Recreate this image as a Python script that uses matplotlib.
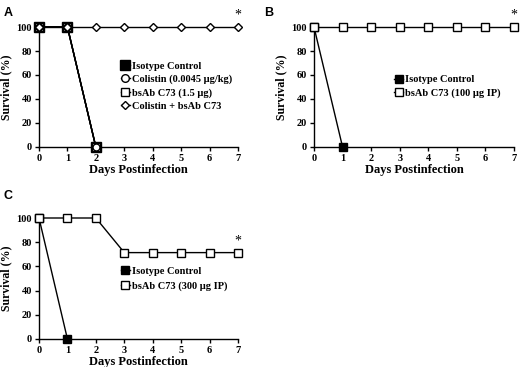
import matplotlib
matplotlib.use("Agg")
import matplotlib.pyplot as plt

days = [0, 1, 2, 3, 4, 5, 6, 7]

# Panel A
a_iso_days = [0, 1, 2]
a_iso = [100, 100, 0]
a_col_days = [0, 1, 2]
a_col = [100, 100, 0]
a_bs_days = [0, 1, 2]
a_bs = [100, 100, 0]
a_combo = [100, 100, 100, 100, 100, 100, 100, 100]

# Panel B
b_iso_days = [0, 1]
b_iso = [100, 0]
b_bs = [100, 100, 100, 100, 100, 100, 100, 100]

# Panel C
c_iso_days = [0, 1]
c_iso = [100, 0]
c_bs = [100, 100, 100, 71.4, 71.4, 71.4, 71.4, 71.4]

labels_a = ["Isotype Control", "Colistin (0.0045 µg/kg)", "bsAb C73 (1.5 µg)", "Colistin + bsAb C73"]
labels_b = ["Isotype Control", "bsAb C73 (100 µg IP)"]
labels_c = ["Isotype Control", "bsAb C73 (300 µg IP)"]
yticks = [0, 20, 40, 60, 80, 100]

serif = "Liberation Serif"
fig = plt.figure(figsize=(5.2, 3.67), dpi=100)

W, H = 520, 367
def ax_at(x0, x1, y_top, y_bot):
    return fig.add_axes([x0 / W, 1 - y_bot / H, (x1 - x0) / W, (y_bot - y_top) / H])

axA = ax_at(39, 238, 27, 147)
axB = ax_at(314, 514, 27, 147)
axC = ax_at(39, 238, 218, 339)

def style(ax):
    ax.set_xlim(0, 7)
    ax.set_ylim(0, 100)
    ax.set_xticks(days)
    ax.set_yticks(yticks)
    for s in ["top", "right"]:
        ax.spines[s].set_visible(False)
    for s in ["left", "bottom"]:
        ax.spines[s].set_linewidth(1.0)
    ax.tick_params(direction="out", length=3, width=1, pad=2, labelsize=7.5)
    for lab in ax.get_xticklabels() + ax.get_yticklabels():
        lab.set_fontfamily(serif)
        lab.set_fontweight("bold")
    ax.set_xlabel("Days Postinfection", fontfamily=serif, fontweight="bold", fontsize=9, labelpad=1)
    ax.set_ylabel("Survival (%)", fontfamily=serif, fontweight="bold", fontsize=8.5, labelpad=3)

lkw = dict(color="black", lw=1.0, clip_on=False, zorder=3)

# Panel A
axA.plot(a_iso_days, a_iso, marker="s", ms=6.5, mfc="black", mec="black", label=labels_a[0], **lkw)
axA.plot(a_col_days, a_col, marker="o", ms=5.5, mfc="white", mec="black", label=labels_a[1], **lkw)
axA.plot(a_bs_days, a_bs, marker="s", ms=5.5, mfc="white", mec="black", label=labels_a[2], **lkw)
axA.plot(a_bs_days, a_col, marker="o", ms=5, mfc="white", mec="black", **lkw)
axA.plot(days, a_combo, marker="D", ms=4, mfc="white", mec="black", label=labels_a[3], **lkw)

# Panel B
axB.plot(b_iso_days, b_iso, marker="s", ms=6, mfc="black", mec="black", label=labels_b[0], **lkw)
axB.plot(days, b_bs, marker="s", ms=6, mfc="white", mec="black", label=labels_b[1], **lkw)

# Panel C
axC.plot(c_iso_days, c_iso, marker="s", ms=6, mfc="black", mec="black", label=labels_c[0], **lkw)
axC.plot(days, c_bs, marker="s", ms=6, mfc="white", mec="black", label=labels_c[1], **lkw)

star_y = {axA: 100, axB: 100, axC: 71.4}
for ax in (axA, axB, axC):
    style(ax)
    ax.annotate("*", xy=(7, star_y[ax]), xytext=(0, 4), textcoords="offset points",
                ha="center", va="bottom", fontsize=10, fontfamily=serif, annotation_clip=False)

legkw = dict(frameon=False, prop={"family": serif, "weight": "bold", "size": 7.5},
             handlelength=0.9, handletextpad=0.2, labelspacing=0.35, borderpad=0, borderaxespad=0)
axA.legend(loc="upper left", bbox_to_anchor=(0.41, 0.71), **legkw)
axB.legend(loc="upper left", bbox_to_anchor=(0.40, 0.60), **legkw)
axC.legend(loc="upper left", bbox_to_anchor=(0.41, 0.60), labelspacing=0.55,
           **{k: v for k, v in legkw.items() if k != "labelspacing"})

for lab, x, y in [("A", 4, 13), ("B", 264, 13), ("C", 4, 196)]:
    fig.text(x / W, 1 - y / H, lab, fontfamily="Liberation Sans", fontweight="bold", fontsize=9,
             ha="left", va="center")

fig.savefig("out.png", dpi=100)
